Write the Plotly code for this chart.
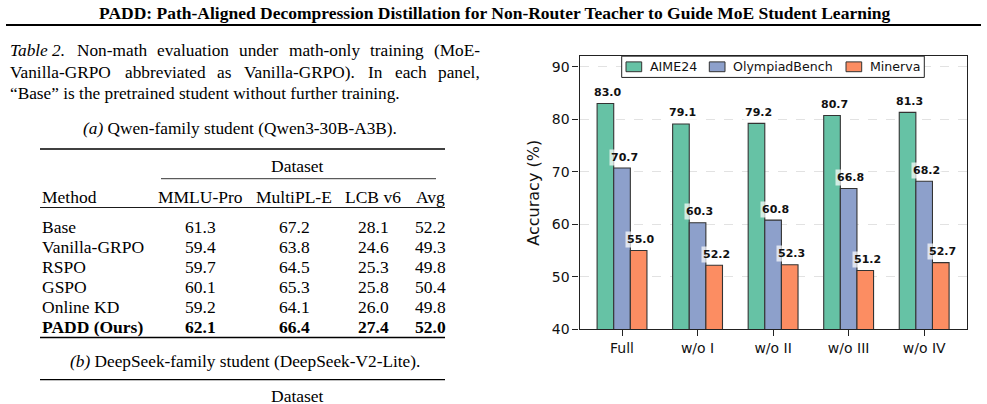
import plotly.graph_objects as go

W, H = 987, 404

# ---------------- chart data ----------------
categories = ["Full", "w/o I", "w/o II", "w/o III", "w/o IV"]
aime24 = [83.0, 79.1, 79.2, 80.7, 81.3]
olympiad = [70.7, 60.3, 60.8, 66.8, 68.2]
minerva = [55.0, 52.2, 52.3, 51.2, 52.7]
series_names = ["AIME24", "OlympiadBench", "Minerva"]
series_colors = ["#66c2a5", "#8da0cb", "#fc8d62"]

# ---------------- table data ----------------
methods = ["Base", "Vanilla-GRPO", "RSPO", "GSPO", "Online KD", "PADD (Ours)"]
mmlu_pro = [61.3, 59.4, 59.7, 60.1, 59.2, 62.1]
multipl_e = [67.2, 63.8, 64.5, 65.3, 64.1, 66.4]
lcb_v6 = [28.1, 24.6, 25.3, 25.8, 26.0, 27.4]
avg_col = [52.2, 49.3, 49.8, 50.4, 49.8, 52.0]
col_headers = ["MMLU-Pro", "MultiPL-E", "LCB v6", "Avg"]


def px(x):
    return x / W


def py(y):
    return 1 - y / H


SERIF = "Liberation Serif"
SANS = "DejaVu Sans"

# Times (Liberation Serif metric-compatible) advance widths, 1/1000 em
_TW = {" ": 250, "(": 333, ")": 333, ",": 250, "-": 333, ".": 250, "2": 500,
       "A": 722, "B": 667, "C": 667, "D": 722, "E": 611, "G": 722, "I": 333, "M": 889,
       "N": 722, "O": 722, "P": 556, "R": 667, "T": 611, "V": 722,
       "a": 444, "b": 500, "c": 444, "d": 500, "e": 444, "g": 500, "h": 500, "i": 278,
       "l": 278, "m": 778, "n": 500, "o": 500, "p": 500, "r": 333, "s": 389, "t": 278,
       "u": 500, "v": 500, "y": 500}
_TWI = dict(_TW, T=556, a=500)


def text_w(s, size, italic=False):
    tbl = _TWI if italic else _TW
    return sum(tbl.get(ch, 500) for ch in s) * size / 1000.0


fig = go.Figure()
all_series = [aime24, olympiad, minerva]
for name, vals, col in zip(series_names, all_series, series_colors):
    fig.add_trace(go.Bar(
        x=categories, y=vals, name=name, showlegend=False,
        marker=dict(color=col, line=dict(color="#333333", width=1.1)),
    ))

annotations = []
bar_w = 0.22
for j, vals in enumerate(all_series):
    off = (j - 1) * bar_w
    for i, v in enumerate(vals):
        annotations.append(dict(
            x=i + off, y=v, xref="x", yref="y", text=f"{v:.1f}",
            showarrow=False, yshift=11, xshift=2, yanchor="middle",
            font=dict(family=SANS, size=11, color="#111111", weight="bold"),
            bgcolor="rgba(255,255,255,0.7)", borderpad=1,
        ))

# ---------------- page text ----------------
def txt(x, y, s, size=17.5, xanchor="left", yanchor="middle", family=SERIF, color="#000000"):
    annotations.append(dict(
        x=px(x), y=py(y), xref="paper", yref="paper", text=s, showarrow=False,
        xanchor=xanchor, yanchor=yanchor,
        font=dict(family=family, size=size, color=color)))


txt(494, 13, "<b>PADD: Path-Aligned Decompression Distillation for Non-Router Teacher to Guide MoE Student Learning</b>",
    size=17.5, xanchor="center")

CAP = 17.3


def justified(words, y, x0=8, x1=478):
    # words: list of (text, italic)
    widths = [text_w(w, CAP, it) for w, it in words]
    gap = (x1 - x0 - sum(widths)) / (len(words) - 1)
    x = x0
    for (w, it), wd in zip(words, widths):
        txt(x, y, f"<i>{w}</i>" if it else w, size=CAP)
        x += wd + gap


justified([("Table 2.", True), ("Non-math", False), ("evaluation", False), ("under", False),
           ("math-only", False), ("training", False), ("(MoE-", False)], 52)
justified([("Vanilla-GRPO", False), ("abbreviated", False), ("as", False),
           ("Vanilla-GRPO).", False), ("In", False), ("each", False), ("panel,", False)], 74)
txt(8, 95.5, "\u201cBase\u201d is the pretrained student without further training.", size=CAP)

txt(240, 131, "<i>(a)</i> Qwen-family student (Qwen3-30B-A3B).", xanchor="center", size=CAP)

txt(297.5, 169, "Dataset", xanchor="center")
txt(40, 201, "Method")
col_x = [200, 294, 373, 430]
for cx, hname in zip(col_x, col_headers):
    txt(cx, 201, hname, xanchor="center")

row_y = [231.3, 251.7, 272.2, 292.6, 313.0, 333.3]
for r, (m, a, b, c, d) in enumerate(zip(methods, mmlu_pro, multipl_e, lcb_v6, avg_col)):
    bold = (r == len(methods) - 1)
    wrap = (lambda s: f"<b>{s}</b>") if bold else (lambda s: s)
    txt(40, row_y[r], wrap(m))
    for cx, v in zip(col_x, (a, b, c, d)):
        txt(cx, row_y[r], wrap(f"{v:.1f}"), xanchor="center")

txt(245, 369, "<i>(b)</i> DeepSeek-family student (DeepSeek-V2-Lite).", xanchor="center", size=CAP)
txt(297.5, 392, "Dataset", xanchor="center", yanchor="top")

shapes = []


def hline(x0, x1, y, w):
    shapes.append(dict(type="line", xref="paper", yref="paper", x0=px(x0), x1=px(x1),
                       y0=py(y), y1=py(y), line=dict(color="#000000", width=w)))


hline(6, 981, 25.5, 2)
hline(40, 445, 152, 1.4)
hline(161, 436, 182.3, 0.8)
hline(40, 445, 211.7, 0.9)
hline(40, 445, 344.3, 1.4)
hline(40, 445, 387.3, 1.4)

ax_l, ax_r, ax_t, ax_b = 579.5, 966.7, 57.3, 336.0

# ---------------- legend (upper centre, framed) ----------------
leg_l, leg_r, leg_t, leg_b = 621.7, 924.3, ax_t, 79.0
shapes.append(dict(type="rect", xref="paper", yref="paper", x0=px(leg_l), x1=px(leg_r),
                   y0=py(leg_b), y1=py(leg_t), fillcolor="white",
                   line=dict(color="#222222", width=1), layer="above"))
patch_x = [626.0, 709.3, 846.0]
leg_mid = (leg_t + leg_b) / 2
for xp, name, col in zip(patch_x, series_names, series_colors):
    shapes.append(dict(type="rect", xref="paper", yref="paper", x0=px(xp), x1=px(xp + 15.7),
                       y0=py(leg_mid + 5), y1=py(leg_mid - 5), fillcolor=col,
                       line=dict(color="#333333", width=1), layer="above"))
    annotations.append(dict(x=px(xp + 21.7), y=py(leg_mid), xref="paper", yref="paper",
                            text=name, showarrow=False, xanchor="left", yanchor="middle",
                            font=dict(family=SANS, size=12.6, color="#111111")))

fig.update_layout(
    width=W, height=H, margin=dict(l=0, r=0, t=0, b=0),
    paper_bgcolor="white", plot_bgcolor="white",
    barmode="group", bargap=0.34, bargroupgap=0,
    font=dict(family=SANS, color="#111111"),
    annotations=annotations, shapes=shapes, showlegend=False,
    xaxis=dict(
        domain=[px(ax_l), px(ax_r)], range=[-0.563, 4.563],
        showline=True, linecolor="#222222", linewidth=1.3, mirror=True,
        ticks="outside", ticklen=6, tickwidth=1.2, tickcolor="#222222",
        tickfont=dict(family=SANS, size=14, color="#111111"),
        showgrid=False, zeroline=False,
    ),
    yaxis=dict(
        domain=[py(ax_b), py(ax_t)], range=[40, 92],
        showline=True, linecolor="#222222", linewidth=1.3, mirror=True,
        ticks="outside", ticklen=6, tickwidth=1.2, tickcolor="#222222",
        tickvals=[40, 50, 60, 70, 80, 90],
        tickfont=dict(family=SANS, size=14, color="#111111"),
        showgrid=True, gridcolor="#e2e2e2", griddash="dash", gridwidth=0.8,
        zeroline=False,
        title=dict(text="Accuracy (%)", font=dict(family=SANS, size=16, color="#111111"), standoff=8),
    ),
)

fig.write_html("out.html")
